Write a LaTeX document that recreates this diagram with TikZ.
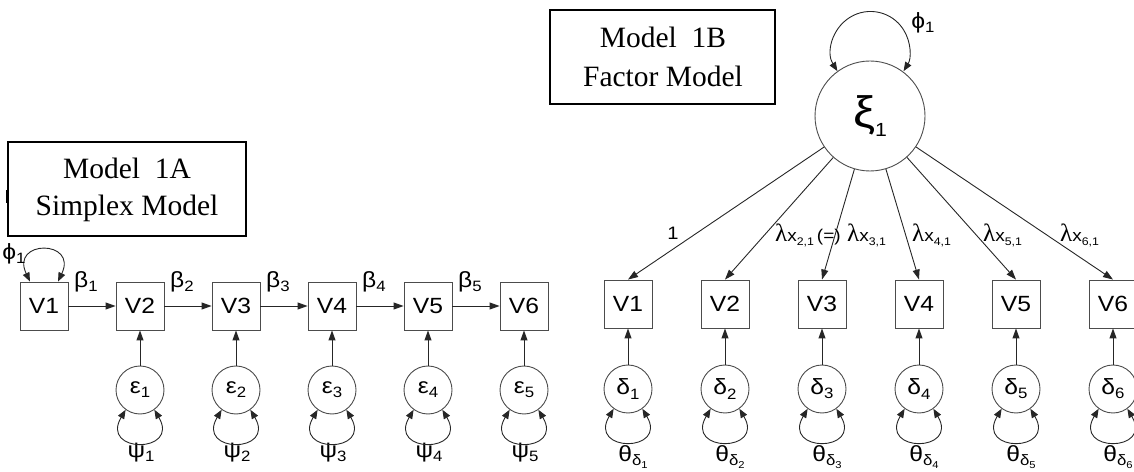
\documentclass[tikz,border=0pt]{standalone}
\usepackage{fontspec}
\setmainfont{Liberation Serif}
\setsansfont{Liberation Sans}[FakeStretch=1.12]
\newfontfamily\lamfont{Liberation Serif}
\usetikzlibrary{arrows.meta}

% size switch and lowered subscript in text mode
\newcommand\fs[1]{\fontsize{#1}{#1}\selectfont}
\newcommand\lowsub[2]{\raisebox{-0.35ex}{\fs{#1}#2}}
% loading label: lambda with x and a lowered index
\newcommand\lamx[1]{{\lamfont\fs{25}λ}{\fs{17}x}\lowsub{11}{#1}}

\tikzset{
  every node/.style={font=\sffamily\fs{22}, inner sep=0pt},
  obsbox/.style={draw=black!70, line width=0.9pt, minimum size=48pt},
  errcirc/.style={circle, draw=black!70, line width=0.9pt, minimum size=48pt},
  latcirc/.style={circle, draw=black!70, line width=0.9pt, minimum size=110pt},
  arr/.style={draw=black!85, line width=0.9pt, -{Triangle[length=10pt,width=7pt]}},
  cov/.style={draw=black!85, line width=0.9pt,
    {Triangle[length=9pt,width=7pt]}-{Triangle[length=9pt,width=7pt]}},
  titlebox/.style={draw=black, line width=2pt},
  titletext/.style={font=\rmfamily\fs{29.5}, anchor=base},
  loadlab/.style={font=\sffamily\fs{18}, anchor=base west},
}

\begin{document}
\begin{tikzpicture}[x=1pt,y=1pt]
\useasboundingbox (0,0) rectangle (1134,471);

% ---------------- Model 1A: simplex ----------------
\node[titlebox, minimum width=238pt, minimum height=94pt] (t1) at (127,282) {};
\node[titletext] (t1a) at (127,292) {Model\ \ 1A};
\node[titletext] (t1b) at (127,255) {Simplex Model};
\draw[line width=3pt] (7.5,281) -- (7.5,268);

\foreach \i in {1,...,6} {
  \pgfmathsetmacro\xx{44+96*(\i-1)}
  \node[obsbox] (a\i) at (\xx,165) {V\i};
}
\foreach \i in {1,...,5} {
  \pgfmathsetmacro\xx{140+96*(\i-1)}
  \pgfmathtruncatemacro\j{\i+1}
  \node[errcirc] (e\i) at (\xx,81) {ε\lowsub{15}{\i}};
  \node (psi\i) at (\xx+1,18) {ψ\lowsub{15}{\i}};
  \draw[arr] (e\i) -- (a\j);
  \draw[cov] (e\i.234) .. controls +(-26,-44) and +(26,-44) .. (e\i.306);
  \draw[arr] (a\i) -- (a\j);
  \node (beta\i) at (\xx-54,189) {β\lowsub{15}{\i}};
}
\draw[cov] ([xshift=-14pt]a1.north) .. controls +(-20,42) and +(20,42) .. ([xshift=14pt]a1.north);
\node (phiA) at (14,217) {ϕ\lowsub{15}{1}};

% ---------------- Model 1B: one factor ----------------
\node[titlebox, minimum width=225pt, minimum height=94pt] (t2) at (662.5,414) {};
\node[titletext] (t2a) at (663,423) {Model\ \ 1B};
\node[titletext] (t2b) at (663,384) {Factor Model};

\node[latcirc] (xi) at (870,355) {\fs{44}ξ\lowsub{19}{1}};
\draw[cov] (xi.126) arc[start angle=212, end angle=-32, radius=39];
\node (phiB) at (923,448) {ϕ\lowsub{15}{1}};

\foreach \i in {1,...,6} {
  \pgfmathsetmacro\xx{628+97*(\i-1)}
  \node[obsbox] (b\i) at (\xx,167) {V\i};
  \node[errcirc] (d\i) at (\xx,82) {δ\lowsub{15}{\i}};
  \node (th\i) at (\xx+5,14) {θ\lowsub{15}{δ\lowsub{10}{\i}}};
  \draw[arr] (d\i) -- (b\i);
  \draw[cov] (d\i.234) .. controls +(-26,-44) and +(26,-44) .. (d\i.306);
  \draw[arr] (xi) -- (b\i.north);
}

\node[loadlab, anchor=base] (l1) at (673,231) {1};
\node[loadlab] (l2) at (775,229) {\lamx{2,1}\kern3pt{\fs{17}(=)}};
\node[loadlab] (l3) at (847,229) {\lamx{3,1}};
\node[loadlab] (l4) at (912,229) {\lamx{4,1}};
\node[loadlab] (l5) at (983,229) {\lamx{5,1}};
\node[loadlab] (l6) at (1060,229) {\lamx{6,1}};
\end{tikzpicture}
\end{document}
